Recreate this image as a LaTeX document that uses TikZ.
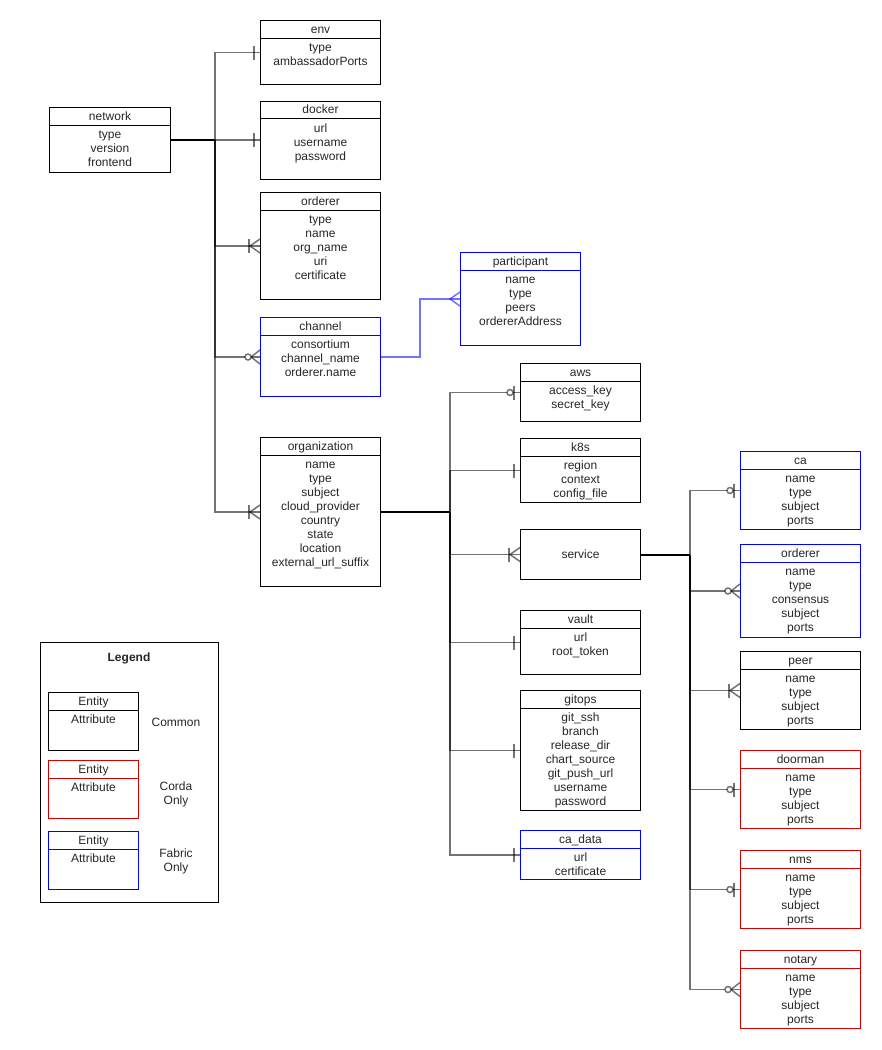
\documentclass[tikz,border=0pt]{standalone}
\usepackage{fontspec}
\setmainfont{Liberation Sans}
\definecolor{cred}{RGB}{210,0,0}
\definecolor{cblue}{RGB}{0,0,255}
\tikzset{
  txt/.style={font=\fontsize{12}{14}\selectfont, inner sep=0pt, text=black!85},
  conn/.style={draw=black, draw opacity=0.55, line width=1.5pt},
  bconn/.style={draw=cblue, draw opacity=0.55, line width=1.5pt},
  stem/.style={draw=black, line width=2pt},
  boxline/.style={line width=1pt},
}
% #1 name, #2 colour, #3 x, #4 y, #5 width, #6 height, #7 title, #8 attributes
\newcommand{\ent}[8]{%
  \node[draw=#2, boxline, minimum width=#5pt, minimum height=#6pt, anchor=north west, inner sep=0pt] (#1) at (#3,#4) {};
  \draw[draw=#2, boxline] ([yshift=-18pt]#1.north west) -- ([yshift=-18pt]#1.north east);
  \node[txt, anchor=base] (#1-t) at ([yshift=-13.3pt]#1.north) {#7};
  \node[txt, align=center, anchor=north] (#1-a) at ([yshift=-21.5pt]#1.north) {\strut #8};
}
% end marks: #1 style, #2 node
\newcommand{\mkOne}[2]{\draw[#1] (#2.west) ++(-6,-7) -- ++(0,14);}
\newcommand{\mkMany}[2]{\draw[#1] (#2.west) ++(0,-7) -- ++(-10,7) -- ++(10,7);}
\newcommand{\mkOneMany}[2]{\mkMany{#1}{#2}\draw[#1] (#2.west) ++(-11,-7) -- ++(0,14);}
\newcommand{\mkZeroMany}[2]{\draw[#1] (#2.west) ++(0,-7) -- ++(-9,7) -- ++(9,7);
  \draw[#1, fill=white] (#2.west) ++(-12,0) circle (3);}
\newcommand{\mkZeroOne}[2]{\draw[#1] (#2.west) ++(-6,-7) -- ++(0,14);
  \draw[#1, fill=white] (#2.west) ++(-10,0) circle (3);}
\begin{document}
\begin{tikzpicture}[x=1pt, y=-1pt]
\useasboundingbox (0,0) rectangle (882,1050);

% ---------- entities ----------
\ent{network}{black}{49}{107}{121}{65}{network}{type\\version\\frontend}
\ent{env}{black}{260}{20}{120}{64}{env}{type\\ambassadorPorts}
\ent{docker}{black}{260}{100.5}{120}{78}{docker}{url\\username\\password}
\ent{orderer}{black}{260}{192}{120}{107}{orderer}{type\\name\\org\_name\\uri\\certificate}
\ent{channel}{cblue}{260}{317}{120}{79}{channel}{consortium\\channel\_name\\orderer.name}
\ent{participant}{cblue}{460}{252}{120}{93}{participant}{name\\type\\peers\\ordererAddress}
\ent{org}{black}{260}{437}{120}{149}{organization}{name\\type\\subject\\cloud\_provider\\country\\state\\location\\external\_url\_suffix}
\ent{aws}{black}{520}{363}{120}{58}{aws}{access\_key\\secret\_key}
\ent{k8s}{black}{520}{438}{120}{64}{k8s}{region\\context\\config\_file}
\node[draw=black, boxline, minimum width=120pt, minimum height=50pt, anchor=north west, inner sep=0pt] (service) at (520,529) {};
\node[txt] (service-t) at (service.center) {service};
\ent{vault}{black}{520}{610}{120}{64}{vault}{url\\root\_token}
\ent{gitops}{black}{520}{690}{120}{120}{gitops}{git\_ssh\\branch\\release\_dir\\chart\_source\\git\_push\_url\\username\\password}
\ent{cadata}{cblue}{520}{830}{120}{49}{ca\_data}{url\\certificate}
\ent{ca}{cblue}{740}{451}{120}{78}{ca}{name\\type\\subject\\ports}
\ent{orderer2}{cblue}{740}{544}{120}{93}{orderer}{name\\type\\consensus\\subject\\ports}
\ent{peer}{black}{740}{651}{120}{78}{peer}{name\\type\\subject\\ports}
\ent{doorman}{cred}{740}{750}{120}{78}{doorman}{name\\type\\subject\\ports}
\ent{nms}{cred}{740}{850}{120}{78}{nms}{name\\type\\subject\\ports}
\ent{notary}{cred}{740}{950}{120}{78}{notary}{name\\type\\subject\\ports}

% ---------- connectors ----------
\coordinate (j1) at (network.east -| 215,0);
\coordinate (j2) at (org.east -| 450,0);
\coordinate (j3) at (service.east -| 690,0);
\coordinate (j4) at (channel.east -| 420,0);
\draw[stem] (network.east) -- (j1);
\draw[stem] (org.east) -- (j2);
\draw[stem] (service.east) -- (j3);
\foreach \n in {env,docker,orderer,channel,org}
  \draw[conn] (j1) |- (\n.west);
\foreach \n in {aws,k8s,service,vault,gitops,cadata}
  \draw[conn] (j2) |- (\n.west);
\foreach \n in {ca,orderer2,peer,doorman,nms,notary}
  \draw[conn] (j3) |- (\n.west);
\draw[bconn] (channel.east) -- (j4) |- (participant.west);

\mkOne{conn}{env}
\mkOne{conn}{docker}
\mkOneMany{conn}{orderer}
\mkZeroMany{conn}{channel}
\mkOneMany{conn}{org}
\mkMany{bconn}{participant}
\mkZeroOne{conn}{aws}
\mkOne{conn}{k8s}
\mkOneMany{conn}{service}
\mkOne{conn}{vault}
\mkOne{conn}{gitops}
\mkOne{conn}{cadata}
\mkZeroOne{conn}{ca}
\mkZeroMany{conn}{orderer2}
\mkOneMany{conn}{peer}
\mkZeroOne{conn}{doorman}
\mkZeroOne{conn}{nms}
\mkZeroMany{conn}{notary}

% ---------- legend ----------
\node[draw=black, boxline, minimum width=178pt, minimum height=260pt, anchor=north west, inner sep=0pt] (legend) at (40,642) {};
\node[txt, font=\fontsize{12}{14}\selectfont\bfseries, anchor=base] (legend-t) at (129,661.3) {Legend};
\ent{lg1}{black}{48}{692}{90}{58}{Entity}{Attribute}
\ent{lg2}{cred}{48}{760}{90}{58}{Entity}{Attribute}
\ent{lg3}{cblue}{48}{831}{90}{58}{Entity}{Attribute}
\node[txt] (lgc) at (176,722) {Common};
\node[txt, align=center] (lgr) at (176,794) {Corda\\Only};
\node[txt, align=center] (lgb) at (176,861) {Fabric\\Only};
\end{tikzpicture}
\end{document}
